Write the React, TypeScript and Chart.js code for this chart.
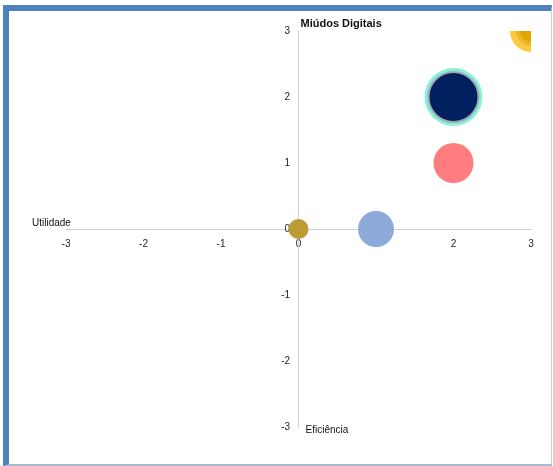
import React, { useEffect, useRef } from "react";
import { Chart, registerables } from "chart.js";

Chart.register(...registerables);

const chartTitle = "Miúdos Digitais";
const xAxisName = "Utilidade";
const yAxisName = "Eficiência";
const axisMin = -3;
const axisMax = 3;

// each series: x, y, bubble radius (px)
const goldPoints = [{ x: 0, y: 0, r: 10 }];
const bluePoints = [{ x: 1, y: 0, r: 18 }];
const salmonPoints = [{ x: 2, y: 1, r: 20 }];
const turquoisePoints = [{ x: 2, y: 2, r: 29 }];
const navyPoints = [{ x: 2, y: 2, r: 25 }];
const yellowOuterPoints = [{ x: 3, y: 3, r: 21 }];
const yellowMidPoints = [{ x: 3, y: 3, r: 15 }];
const yellowInnerPoints = [{ x: 3, y: 3, r: 11 }];

const textPlugin = {
  id: "axisNames",
  afterDraw(chart: any) {
    const { ctx, chartArea, scales } = chart;
    const x0 = scales.x.getPixelForValue(0);
    const y0 = scales.y.getPixelForValue(0);
    ctx.save();
    ctx.fillStyle = "#111";
    ctx.textBaseline = "alphabetic";
    ctx.textAlign = "left";
    ctx.font = "bold 11px 'Liberation Sans', Arial, sans-serif";
    ctx.fillText(chartTitle, x0 + 2, chartArea.top - 4);
    ctx.font = "10px 'Liberation Sans', Arial, sans-serif";
    ctx.fillText(xAxisName, chartArea.left - 34, y0 - 3);
    ctx.fillText(yAxisName, x0 + 7, chartArea.bottom + 6);
    ctx.restore();
  },
};

export default function App() {
  const ref = useRef<HTMLCanvasElement>(null);
  useEffect(() => {
    if (!ref.current) return;
    const mk = (data: any[], bg: string, border?: string, bw = 0) => ({
      data,
      backgroundColor: bg,
      borderColor: border || bg,
      borderWidth: bw,
      hoverRadius: 0,
      clip: 0,
    });
    // first dataset is drawn on top
    const chart = new Chart(ref.current, {
      type: "bubble",
      data: {
        datasets: [
          mk(goldPoints, "#bd9a33"),
          mk(bluePoints, "#8eaadb"),
          mk(salmonPoints, "#ff7c80"),
          mk(navyPoints, "#00205f", "#a6a6b4", 2),
          mk(turquoisePoints, "#84f3d6"),
          mk(yellowInnerPoints, "#e2a600"),
          mk(yellowMidPoints, "#e8b92a"),
          mk(yellowOuterPoints, "#ffc93c"),
        ] as any,
      },
      options: {
        animation: false,
        responsive: false,
        maintainAspectRatio: false,
        events: [],
        layout: { autoPadding: false, padding: { left: 66, right: 22, top: 31, bottom: 39 } },
        plugins: { legend: { display: false }, tooltip: { enabled: false }, title: { display: false } },
        scales: {
          x: {
            type: "linear",
            min: axisMin,
            max: axisMax,
            position: { y: 0 } as any,
            z: 1,
            grid: { display: false },
            border: { display: true, color: "#d0d0d0", width: 1 },
            ticks: {
              stepSize: 1,
              padding: 1,
              color: "#222",
              font: { family: "'Liberation Sans', Arial, sans-serif", size: 10 },
            },
          },
          y: {
            type: "linear",
            min: axisMin,
            max: axisMax,
            position: { x: 0 } as any,
            z: 1,
            grid: { display: false },
            border: { display: true, color: "#d0d0d0", width: 1 },
            ticks: {
              stepSize: 1,
              padding: 0,
              color: "#222",
              font: { family: "'Liberation Sans', Arial, sans-serif", size: 10 },
              callback: (v: any) => String(v) + "   ",
            },
          },
        },
      },
      plugins: [textPlugin],
    });
    return () => chart.destroy();
  }, []);

  return (
    <div style={{ position: "fixed", left: 0, top: 0, width: 553, height: 466, background: "#fff" }}>
      <div
        style={{
          position: "absolute",
          left: 3,
          top: 5,
          width: 542,
          height: 453,
          borderLeft: "6px solid #4f81bd",
          borderTop: "6px solid #4f81bd",
          borderRight: "1px solid #c3cfe0",
          borderBottom: "2px solid #a9b9cf",
        }}
      />
      <canvas ref={ref} width={553} height={466} style={{ position: "absolute", left: 0, top: 0 }} />
    </div>
  );
}
